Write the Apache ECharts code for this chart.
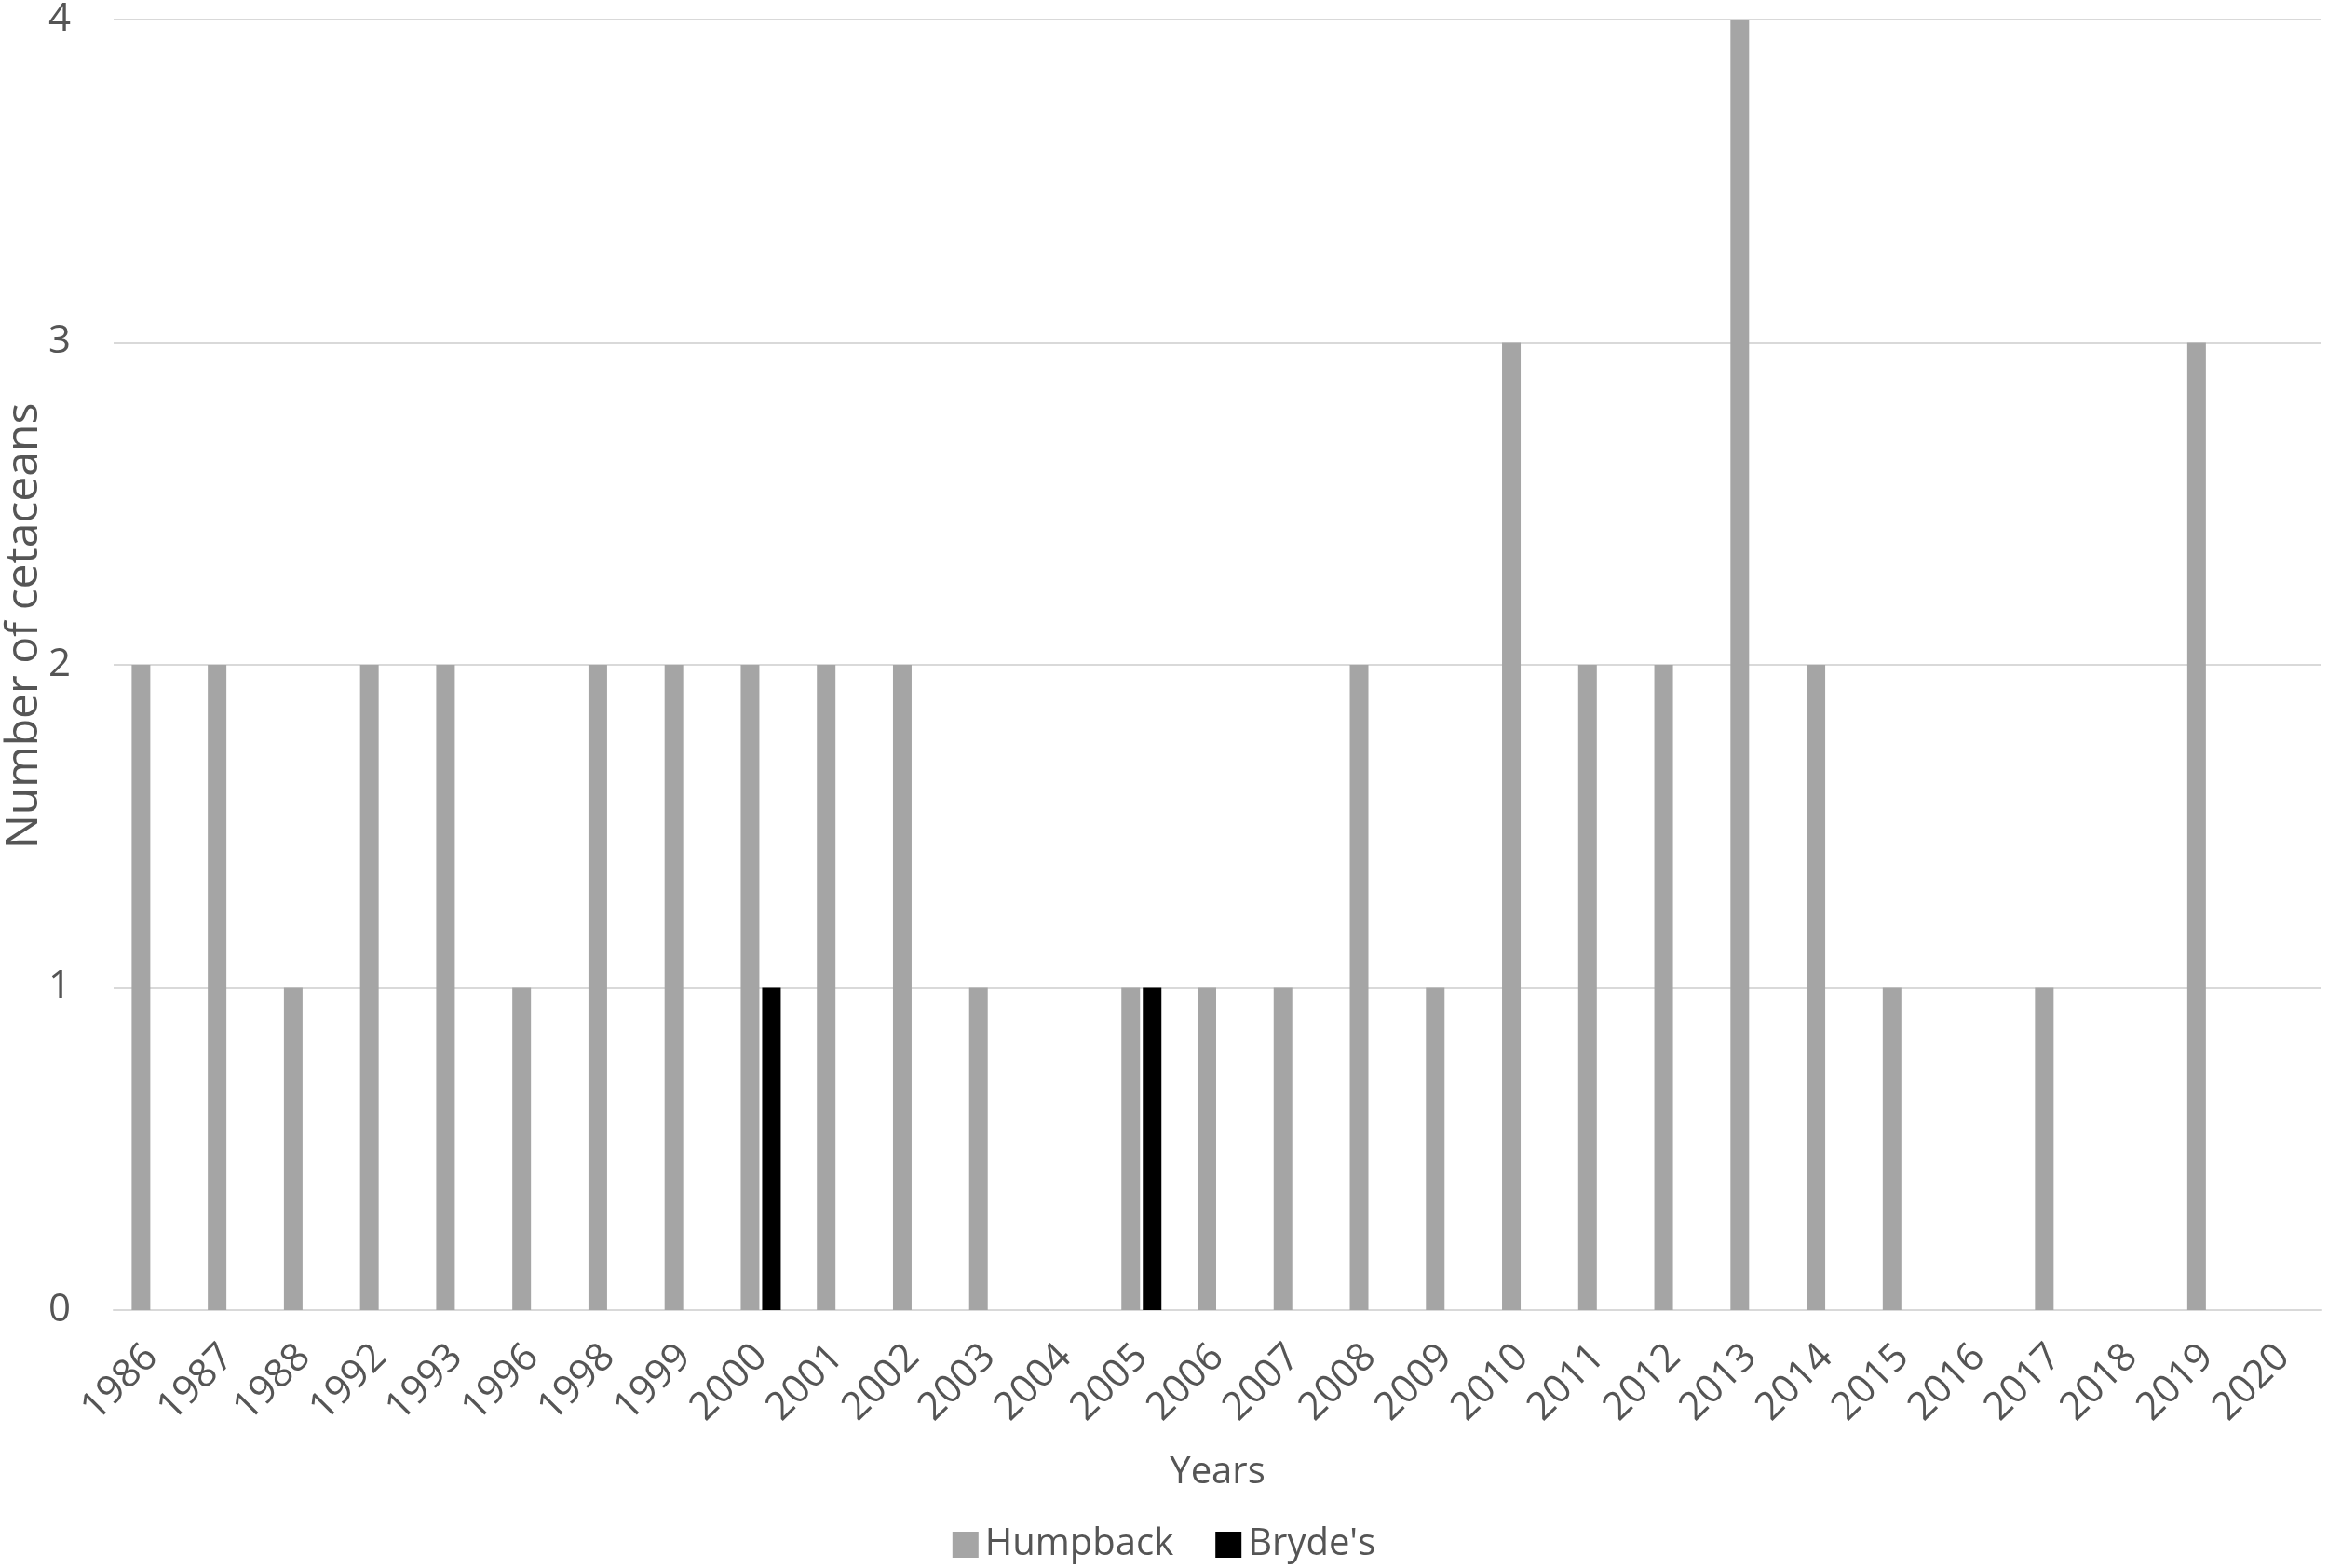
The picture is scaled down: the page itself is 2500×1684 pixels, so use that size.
<!DOCTYPE html>
<html>
<head>
<meta charset="utf-8">
<script src="https://cdn.jsdelivr.net/npm/echarts@6/dist/echarts.min.js"></script>
<style>
html,body{margin:0;padding:0;background:#fff;}
#chart{width:2500px;height:1684px;}
</style>
</head>
<body>
<div id="chart"></div>
<script>
const years = ['1986','1987','1988','1992','1993','1996','1998','1999','2000','2001','2002','2003','2004','2005','2006','2007','2008','2009','2010','2011','2012','2013','2014','2015','2016','2017','2018','2019','2020'];
const humpback = [2,2,1,2,2,1,2,2,2,2,2,1,0,1,1,1,2,1,3,2,2,4,2,1,0,1,0,3,0];
const brydes =   [0,0,0,0,0,0,0,0,1,0,0,0,0,1,0,0,0,0,0,0,0,0,0,0,0,0,0,0,0];
const yTicks = [0,1,2,3,4];
const yTitle = 'Number of cetaceans';

const FONT = 'Open Sans';
const TXT = '#555555';

const chart = echarts.init(document.getElementById('chart'), null, {renderer:'canvas'});
chart.setOption({
  backgroundColor:'#ffffff',
  animation:false,
  textStyle:{fontFamily:FONT},
  grid:{left:122, right:7, top:21, bottom:1684-1407, containLabel:false, outerBoundsMode:'none'},
  graphic:[{
    type:'text', x:26, y:672, rotation:Math.PI/2,
    style:{text:yTitle, fontFamily:FONT, fontSize:48, fill:TXT, align:'center', verticalAlign:'middle'}
  }],
  legend:{
    bottom:0, left:'center',
    icon:'rect', itemWidth:28, itemHeight:28, itemGap:45,
    textStyle:{fontFamily:FONT, fontSize:40, color:TXT, padding:[0,0,0,2]},
    data:['Humpback',"Bryde's"]
  },
  xAxis:{
    type:'category',
    data:years,
    name:'Years',
    nameLocation:'middle',
    nameGap:155,
    nameMoveOverlap:false,
    nameTextStyle:{fontFamily:FONT, fontSize:40, color:TXT},
    axisLine:{lineStyle:{color:'#d9d9d9', width:2}},
    axisTick:{show:false},
    axisLabel:{interval:0, rotate:45, fontFamily:FONT, fontSize:42, color:TXT, margin:44}
  },
  yAxis:{
    type:'value',
    min:yTicks[0], max:yTicks[yTicks.length-1], interval:1,
    axisLine:{show:false},
    axisTick:{show:false},
    axisLabel:{fontFamily:FONT, fontSize:42, color:TXT, margin:46},
    splitLine:{lineStyle:{color:'#d9d9d9', width:2}}
  },
  series:[
    {name:'Humpback', type:'bar', data:humpback, barWidth:20, barGap:'15%', itemStyle:{color:'#a5a5a5'}},
    {name:"Bryde's", type:'bar', data:brydes, barWidth:20, barGap:'15%', itemStyle:{color:'#000000'}}
  ]
});
</script>
</body>
</html>
